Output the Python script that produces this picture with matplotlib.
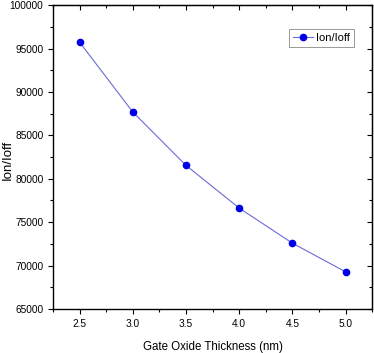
import matplotlib
matplotlib.use("Agg")
import matplotlib.pyplot as plt
from matplotlib.ticker import MultipleLocator

plt.rcParams['font.family'] = ['Liberation Sans', 'DejaVu Sans']

thickness = [2.5, 3.0, 3.5, 4.0, 4.5, 5.0]
ion_ioff = [95730, 87690, 81540, 76620, 72580, 69270]
series_label = "Ion/Ioff"
xlabel = "Gate Oxide Thickness (nm)"
ylabel = "Ion/Ioff"

fig = plt.figure(figsize=(3.74, 3.53), dpi=100)
ax = fig.add_axes([0.142, 0.125, 0.853, 0.86])

ax.plot(thickness, ion_ioff, color='#6a6ad8', lw=0.8, marker='o', ms=4.5,
        markerfacecolor='#0000e6', markeredgecolor='#0000e6', label=series_label)

ax.set_xlim(2.25, 5.25)
ax.set_ylim(65000, 100000)
ax.xaxis.set_major_locator(MultipleLocator(0.5))
ax.xaxis.set_minor_locator(MultipleLocator(0.25))
ax.yaxis.set_major_locator(MultipleLocator(5000))
ax.yaxis.set_minor_locator(MultipleLocator(2500))

ax.tick_params(which='both', direction='out', top=False, right=False, width=0.8)
ax.tick_params(which='major', length=3.5, labelsize=7.3)
ax.tick_params(which='minor', length=2)

# inward ticks on top and right
axt = ax.secondary_xaxis('top')
axt.xaxis.set_major_locator(MultipleLocator(0.5))
axt.xaxis.set_minor_locator(MultipleLocator(0.25))
axt.tick_params(which='both', direction='in', labeltop=False, width=0.8)
axt.tick_params(which='major', length=3.5)
axt.tick_params(which='minor', length=2)
axr = ax.secondary_yaxis('right')
axr.yaxis.set_major_locator(MultipleLocator(5000))
axr.yaxis.set_minor_locator(MultipleLocator(2500))
axr.tick_params(which='both', direction='in', labelright=False, width=0.8)
axr.tick_params(which='major', length=3.5)
axr.tick_params(which='minor', length=2)

for s in ax.spines.values():
    s.set_linewidth(1.0)

ax.set_xlabel(xlabel, fontsize=8.3)
ax.xaxis.set_label_coords(0.5, -0.105)
ax.set_ylabel(ylabel, fontsize=9.5)
ax.yaxis.set_label_coords(-0.122, 0.49)

leg = ax.legend(loc='upper right', bbox_to_anchor=(0.96, 0.94), fontsize=8,
                fancybox=False, framealpha=1, edgecolor='#888888',
                handlelength=1.8, borderpad=0.35, handletextpad=0.3)
leg.get_frame().set_linewidth(0.6)

fig.savefig("out.png", dpi=100)
